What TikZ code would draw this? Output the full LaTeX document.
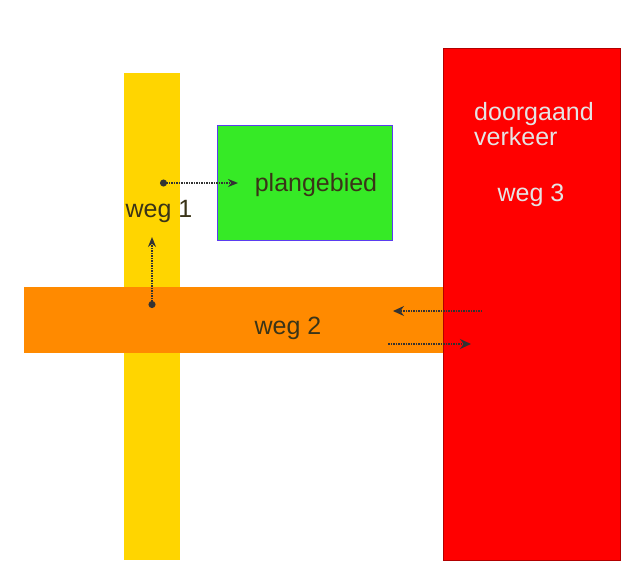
\documentclass[tikz,border=0pt]{standalone}
\usepackage{fontspec}
\setmainfont{Liberation Sans}
\usetikzlibrary{arrows.meta}
\definecolor{roadyellow}{HTML}{FFD500}
\definecolor{roadorange}{HTML}{FF8A00}
\definecolor{roadred}{HTML}{FF0000}
\definecolor{zonegreen}{HTML}{36EA26}
\definecolor{zoneblue}{HTML}{5A3CF0}
\definecolor{labeldark}{HTML}{3A3418}
\definecolor{labellight}{HTML}{E4E4E4}
\tikzset{
  road/.style={draw=none},
  lbl/.style={font=\fontsize{25}{25}\selectfont, text=labeldark, inner sep=0pt},
  lbllight/.style={font=\fontsize{25}{25}\selectfont, text=labellight, inner sep=0pt},
  link/.style={densely dotted, line width=1.5pt, black!80},
}
\begin{document}
\begin{tikzpicture}[x=1pt,y=-1pt]
\useasboundingbox[fill=white] (0,0) rectangle (624,576);
% roads
\fill[roadyellow] (124,73) rectangle (180,560);
\fill[roadorange] (24,287) rectangle (445,353);
\fill[roadred] (443,48) rectangle (620,560);
\draw[roadred!70!black, line width=0.8pt] (443,48) rectangle (620,560);
% plan area
\node[draw=zoneblue, line width=1.2pt, fill=zonegreen, minimum width=175pt, minimum height=115pt, inner sep=0pt, anchor=north west] (plan) at (217,125) {};
% labels
\node[lbl] (w1) at (159,211) {weg 1};
\node[lbl] (pg) at (316,185) {plangebied};
\node[lbl] (w2) at (288,328) {weg 2};
\node[lbllight, anchor=north west, align=left] (dv) at (474,102) {doorgaand\\verkeer};
\node[lbllight] (w3) at (531,195) {weg 3};
% connector ends
\coordinate (a1) at (160,183);
\coordinate (a2) at (238,183);
\coordinate (b1) at (152,308);
\coordinate (b2) at (152,237);
\coordinate (c1) at (482,311);
\coordinate (c2) at (393,311);
\coordinate (d1) at (388,344);
\coordinate (d2) at (471,344);
\draw[link, {Circle[length=7pt]}-{Stealth[length=10pt,width=8pt]}] (a1) -- (a2);
\draw[link, {Circle[length=7pt]}-{Stealth[length=10pt,width=8pt]}] (b1) -- (b2);
\draw[link, -{Stealth[length=11pt,width=10pt]}] (c1) -- (c2);
\draw[link, -{Stealth[length=11pt,width=10pt]}] (d1) -- (d2);
\end{tikzpicture}
\end{document}
